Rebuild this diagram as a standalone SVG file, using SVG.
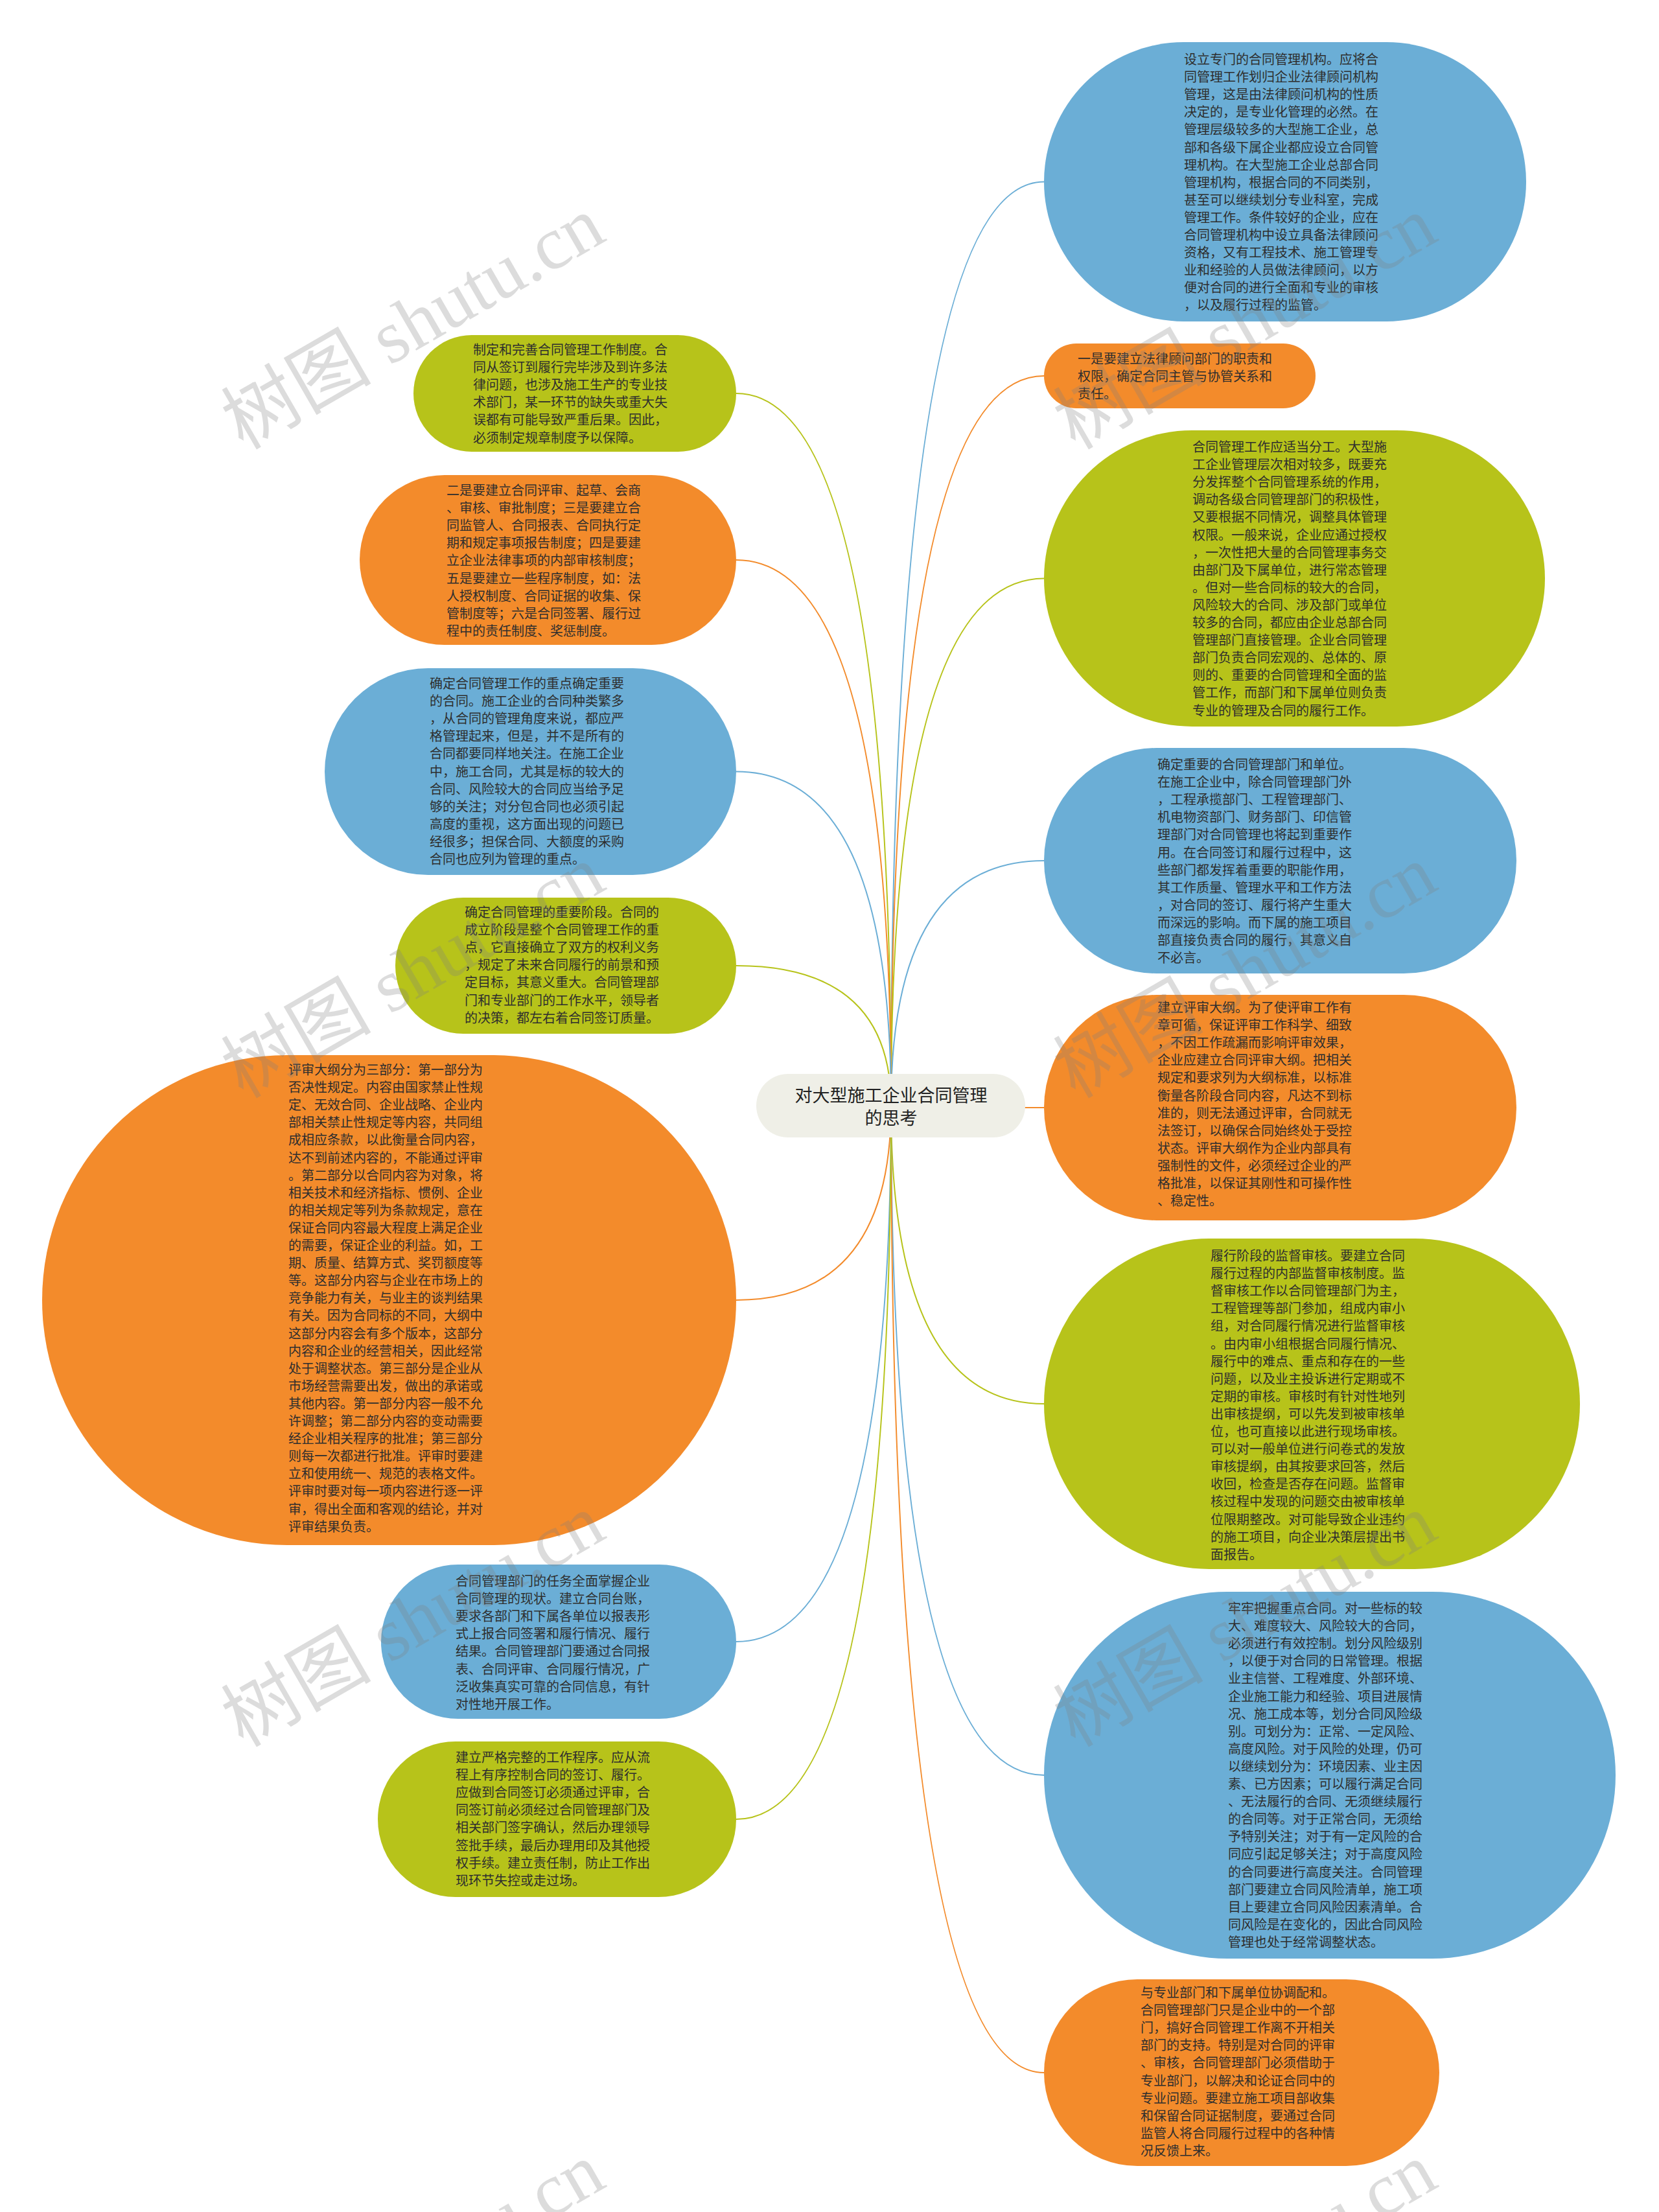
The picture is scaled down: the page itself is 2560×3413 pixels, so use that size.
<svg xmlns="http://www.w3.org/2000/svg" width="2560" height="3413" viewBox="0 0 2560 3413">
<style>
.t{font-family:"Noto Sans CJK SC","Noto Sans",sans-serif;font-size:20px;fill:#2e2e2e}
.root{font-family:"Noto Sans CJK SC","Noto Sans",sans-serif;font-size:27px;fill:#222}
.blue{fill:#6BAED6}.orange{fill:#F38B2B}.green{fill:#B7C31A}
.lb{stroke:#6BAED6}.lo{stroke:#F38B2B}.lg{stroke:#B7C31A}
.conn path{fill:none;stroke-width:2}
.wm{font-family:"Liberation Serif","Noto Sans CJK SC",serif;font-size:116px;fill:#808080;opacity:0.27}
</style>
<rect width="2560" height="3413" fill="#fff"/>
<g class="conn">
<path class="lb" d="M1375 1706 Q1375 280.5 1611 280.5"/>
<path class="lo" d="M1375 1706 Q1375 580 1611 580"/>
<path class="lg" d="M1375 1706 Q1375 892.5 1611 892.5"/>
<path class="lb" d="M1375 1706 Q1375 1328 1611 1328"/>
<path class="lo" d="M1375 1706 Q1375 1709 1611 1709"/>
<path class="lg" d="M1375 1706 Q1375 2166 1611 2166"/>
<path class="lb" d="M1375 1706 Q1375 2739 1611 2739"/>
<path class="lo" d="M1375 1706 Q1375 3198 1611 3198"/>
<path class="lg" d="M1375 1706 Q1375 607 1136 607"/>
<path class="lo" d="M1375 1706 Q1375 864 1136 864"/>
<path class="lb" d="M1375 1706 Q1375 1190.5 1136 1190.5"/>
<path class="lg" d="M1375 1706 Q1375 1490 1136 1490"/>
<path class="lo" d="M1375 1706 Q1375 2006 1136 2006"/>
<path class="lb" d="M1375 1706 Q1375 2533 1136 2533"/>
<path class="lg" d="M1375 1706 Q1375 2807 1136 2807"/>
</g>
<g id="root">
<rect x="1167" y="1657" width="415" height="98" rx="49" fill="#EFEFE7"/>
<text class="root" text-anchor="middle"><tspan x="1375" y="1700">对大型施工企业合同管理</tspan><tspan x="1375" y="1735">的思考</tspan></text>
</g>
<g id="r1">
<rect class="blue" x="1611" y="65" width="744" height="431" rx="215.5"/>
<text class="t"><tspan x="1827" y="99">设立专门的合同管理机构。应将合</tspan><tspan x="1827" dy="27.1">同管理工作划归企业法律顾问机构</tspan><tspan x="1827" dy="27.1">管理，这是由法律顾问机构的性质</tspan><tspan x="1827" dy="27.1">决定的，是专业化管理的必然。在</tspan><tspan x="1827" dy="27.1">管理层级较多的大型施工企业，总</tspan><tspan x="1827" dy="27.1">部和各级下属企业都应设立合同管</tspan><tspan x="1827" dy="27.1">理机构。在大型施工企业总部合同</tspan><tspan x="1827" dy="27.1">管理机构，根据合同的不同类别，</tspan><tspan x="1827" dy="27.1">甚至可以继续划分专业科室，完成</tspan><tspan x="1827" dy="27.1">管理工作。条件较好的企业，应在</tspan><tspan x="1827" dy="27.1">合同管理机构中设立具备法律顾问</tspan><tspan x="1827" dy="27.1">资格，又有工程技术、施工管理专</tspan><tspan x="1827" dy="27.1">业和经验的人员做法律顾问，以方</tspan><tspan x="1827" dy="27.1">便对合同的进行全面和专业的审核</tspan><tspan x="1827" dy="27.1">，以及履行过程的监管。</tspan></text>
</g>
<g id="r2">
<rect class="orange" x="1611" y="530" width="419" height="100" rx="50"/>
<text class="t"><tspan x="1663" y="561">一是要建立法律顾问部门的职责和</tspan><tspan x="1663" dy="27.1">权限，确定合同主管与协管关系和</tspan><tspan x="1663" dy="27.1">责任。</tspan></text>
</g>
<g id="r3">
<rect class="green" x="1611" y="664" width="773" height="457" rx="228.5"/>
<text class="t"><tspan x="1840" y="697">合同管理工作应适当分工。大型施</tspan><tspan x="1840" dy="27.1">工企业管理层次相对较多，既要充</tspan><tspan x="1840" dy="27.1">分发挥整个合同管理系统的作用，</tspan><tspan x="1840" dy="27.1">调动各级合同管理部门的积极性，</tspan><tspan x="1840" dy="27.1">又要根据不同情况，调整具体管理</tspan><tspan x="1840" dy="27.1">权限。一般来说，企业应通过授权</tspan><tspan x="1840" dy="27.1">，一次性把大量的合同管理事务交</tspan><tspan x="1840" dy="27.1">由部门及下属单位，进行常态管理</tspan><tspan x="1840" dy="27.1">。但对一些合同标的较大的合同，</tspan><tspan x="1840" dy="27.1">风险较大的合同、涉及部门或单位</tspan><tspan x="1840" dy="27.1">较多的合同，都应由企业总部合同</tspan><tspan x="1840" dy="27.1">管理部门直接管理。企业合同管理</tspan><tspan x="1840" dy="27.1">部门负责合同宏观的、总体的、原</tspan><tspan x="1840" dy="27.1">则的、重要的合同管理和全面的监</tspan><tspan x="1840" dy="27.1">管工作，而部门和下属单位则负责</tspan><tspan x="1840" dy="27.1">专业的管理及合同的履行工作。</tspan></text>
</g>
<g id="r4">
<rect class="blue" x="1611" y="1154" width="729" height="348" rx="174"/>
<text class="t"><tspan x="1786" y="1187">确定重要的合同管理部门和单位。</tspan><tspan x="1786" dy="27.1">在施工企业中，除合同管理部门外</tspan><tspan x="1786" dy="27.1">，工程承揽部门、工程管理部门、</tspan><tspan x="1786" dy="27.1">机电物资部门、财务部门、印信管</tspan><tspan x="1786" dy="27.1">理部门对合同管理也将起到重要作</tspan><tspan x="1786" dy="27.1">用。在合同签订和履行过程中，这</tspan><tspan x="1786" dy="27.1">些部门都发挥着重要的职能作用，</tspan><tspan x="1786" dy="27.1">其工作质量、管理水平和工作方法</tspan><tspan x="1786" dy="27.1">，对合同的签订、履行将产生重大</tspan><tspan x="1786" dy="27.1">而深远的影响。而下属的施工项目</tspan><tspan x="1786" dy="27.1">部直接负责合同的履行，其意义自</tspan><tspan x="1786" dy="27.1">不必言。</tspan></text>
</g>
<g id="r5">
<rect class="orange" x="1611" y="1535" width="729" height="348" rx="174"/>
<text class="t"><tspan x="1786" y="1562">建立评审大纲。为了使评审工作有</tspan><tspan x="1786" dy="27.1">章可循，保证评审工作科学、细致</tspan><tspan x="1786" dy="27.1">，不因工作疏漏而影响评审效果，</tspan><tspan x="1786" dy="27.1">企业应建立合同评审大纲。把相关</tspan><tspan x="1786" dy="27.1">规定和要求列为大纲标准，以标准</tspan><tspan x="1786" dy="27.1">衡量各阶段合同内容，凡达不到标</tspan><tspan x="1786" dy="27.1">准的，则无法通过评审，合同就无</tspan><tspan x="1786" dy="27.1">法签订，以确保合同始终处于受控</tspan><tspan x="1786" dy="27.1">状态。评审大纲作为企业内部具有</tspan><tspan x="1786" dy="27.1">强制性的文件，必须经过企业的严</tspan><tspan x="1786" dy="27.1">格批准，以保证其刚性和可操作性</tspan><tspan x="1786" dy="27.1">、稳定性。</tspan></text>
</g>
<g id="r6">
<rect class="green" x="1611" y="1911" width="827" height="510" rx="255"/>
<text class="t"><tspan x="1868" y="1945">履行阶段的监督审核。要建立合同</tspan><tspan x="1868" dy="27.1">履行过程的内部监督审核制度。监</tspan><tspan x="1868" dy="27.1">督审核工作以合同管理部门为主，</tspan><tspan x="1868" dy="27.1">工程管理等部门参加，组成内审小</tspan><tspan x="1868" dy="27.1">组，对合同履行情况进行监督审核</tspan><tspan x="1868" dy="27.1">。由内审小组根据合同履行情况、</tspan><tspan x="1868" dy="27.1">履行中的难点、重点和存在的一些</tspan><tspan x="1868" dy="27.1">问题，以及业主投诉进行定期或不</tspan><tspan x="1868" dy="27.1">定期的审核。审核时有针对性地列</tspan><tspan x="1868" dy="27.1">出审核提纲，可以先发到被审核单</tspan><tspan x="1868" dy="27.1">位，也可直接以此进行现场审核。</tspan><tspan x="1868" dy="27.1">可以对一般单位进行问卷式的发放</tspan><tspan x="1868" dy="27.1">审核提纲，由其按要求回答，然后</tspan><tspan x="1868" dy="27.1">收回，检查是否存在问题。监督审</tspan><tspan x="1868" dy="27.1">核过程中发现的问题交由被审核单</tspan><tspan x="1868" dy="27.1">位限期整改。对可能导致企业违约</tspan><tspan x="1868" dy="27.1">的施工项目，向企业决策层提出书</tspan><tspan x="1868" dy="27.1">面报告。</tspan></text>
</g>
<g id="r7">
<rect class="blue" x="1611" y="2456" width="882" height="566" rx="283"/>
<text class="t"><tspan x="1895" y="2489">牢牢把握重点合同。对一些标的较</tspan><tspan x="1895" dy="27.1">大、难度较大、风险较大的合同，</tspan><tspan x="1895" dy="27.1">必须进行有效控制。划分风险级别</tspan><tspan x="1895" dy="27.1">，以便于对合同的日常管理。根据</tspan><tspan x="1895" dy="27.1">业主信誉、工程难度、外部环境、</tspan><tspan x="1895" dy="27.1">企业施工能力和经验、项目进展情</tspan><tspan x="1895" dy="27.1">况、施工成本等，划分合同风险级</tspan><tspan x="1895" dy="27.1">别。可划分为：正常、一定风险、</tspan><tspan x="1895" dy="27.1">高度风险。对于风险的处理，仍可</tspan><tspan x="1895" dy="27.1">以继续划分为：环境因素、业主因</tspan><tspan x="1895" dy="27.1">素、已方因素；可以履行满足合同</tspan><tspan x="1895" dy="27.1">、无法履行的合同、无须继续履行</tspan><tspan x="1895" dy="27.1">的合同等。对于正常合同，无须给</tspan><tspan x="1895" dy="27.1">予特别关注；对于有一定风险的合</tspan><tspan x="1895" dy="27.1">同应引起足够关注；对于高度风险</tspan><tspan x="1895" dy="27.1">的合同要进行高度关注。合同管理</tspan><tspan x="1895" dy="27.1">部门要建立合同风险清单，施工项</tspan><tspan x="1895" dy="27.1">目上要建立合同风险因素清单。合</tspan><tspan x="1895" dy="27.1">同风险是在变化的，因此合同风险</tspan><tspan x="1895" dy="27.1">管理也处于经常调整状态。</tspan></text>
</g>
<g id="r8">
<rect class="orange" x="1611" y="3054" width="610" height="288" rx="144"/>
<text class="t"><tspan x="1760" y="3082">与专业部门和下属单位协调配和。</tspan><tspan x="1760" dy="27.1">合同管理部门只是企业中的一个部</tspan><tspan x="1760" dy="27.1">门，搞好合同管理工作离不开相关</tspan><tspan x="1760" dy="27.1">部门的支持。特别是对合同的评审</tspan><tspan x="1760" dy="27.1">、审核，合同管理部门必须借助于</tspan><tspan x="1760" dy="27.1">专业部门，以解决和论证合同中的</tspan><tspan x="1760" dy="27.1">专业问题。要建立施工项目部收集</tspan><tspan x="1760" dy="27.1">和保留合同证据制度，要通过合同</tspan><tspan x="1760" dy="27.1">监管人将合同履行过程中的各种情</tspan><tspan x="1760" dy="27.1">况反馈上来。</tspan></text>
</g>
<g id="l1">
<rect class="green" x="638" y="517" width="498" height="180" rx="90"/>
<text class="t"><tspan x="730" y="547">制定和完善合同管理工作制度。合</tspan><tspan x="730" dy="27.1">同从签订到履行完毕涉及到许多法</tspan><tspan x="730" dy="27.1">律问题，也涉及施工生产的专业技</tspan><tspan x="730" dy="27.1">术部门，某一环节的缺失或重大失</tspan><tspan x="730" dy="27.1">误都有可能导致严重后果。因此，</tspan><tspan x="730" dy="27.1">必须制定规章制度予以保障。</tspan></text>
</g>
<g id="l2">
<rect class="orange" x="555" y="733" width="581" height="262" rx="131"/>
<text class="t"><tspan x="689" y="764">二是要建立合同评审、起草、会商</tspan><tspan x="689" dy="27.1">、审核、审批制度；三是要建立合</tspan><tspan x="689" dy="27.1">同监管人、合同报表、合同执行定</tspan><tspan x="689" dy="27.1">期和规定事项报告制度；四是要建</tspan><tspan x="689" dy="27.1">立企业法律事项的内部审核制度；</tspan><tspan x="689" dy="27.1">五是要建立一些程序制度，如：法</tspan><tspan x="689" dy="27.1">人授权制度、合同证据的收集、保</tspan><tspan x="689" dy="27.1">管制度等；六是合同签署、履行过</tspan><tspan x="689" dy="27.1">程中的责任制度、奖惩制度。</tspan></text>
</g>
<g id="l3">
<rect class="blue" x="501" y="1031" width="635" height="319" rx="159.5"/>
<text class="t"><tspan x="663" y="1062">确定合同管理工作的重点确定重要</tspan><tspan x="663" dy="27.1">的合同。施工企业的合同种类繁多</tspan><tspan x="663" dy="27.1">，从合同的管理角度来说，都应严</tspan><tspan x="663" dy="27.1">格管理起来，但是，并不是所有的</tspan><tspan x="663" dy="27.1">合同都要同样地关注。在施工企业</tspan><tspan x="663" dy="27.1">中，施工合同，尤其是标的较大的</tspan><tspan x="663" dy="27.1">合同、风险较大的合同应当给予足</tspan><tspan x="663" dy="27.1">够的关注；对分包合同也必须引起</tspan><tspan x="663" dy="27.1">高度的重视，这方面出现的问题已</tspan><tspan x="663" dy="27.1">经很多；担保合同、大额度的采购</tspan><tspan x="663" dy="27.1">合同也应列为管理的重点。</tspan></text>
</g>
<g id="l4">
<rect class="green" x="610" y="1385" width="526" height="210" rx="105"/>
<text class="t"><tspan x="717" y="1415">确定合同管理的重要阶段。合同的</tspan><tspan x="717" dy="27.1">成立阶段是整个合同管理工作的重</tspan><tspan x="717" dy="27.1">点，它直接确立了双方的权利义务</tspan><tspan x="717" dy="27.1">，规定了未来合同履行的前景和预</tspan><tspan x="717" dy="27.1">定目标，其意义重大。合同管理部</tspan><tspan x="717" dy="27.1">门和专业部门的工作水平，领导者</tspan><tspan x="717" dy="27.1">的决策，都左右着合同签订质量。</tspan></text>
</g>
<g id="l5">
<rect class="orange" x="65" y="1628" width="1071" height="756" rx="378"/>
<text class="t"><tspan x="445" y="1658">评审大纲分为三部分：第一部分为</tspan><tspan x="445" dy="27.1">否决性规定。内容由国家禁止性规</tspan><tspan x="445" dy="27.1">定、无效合同、企业战略、企业内</tspan><tspan x="445" dy="27.1">部相关禁止性规定等内容，共同组</tspan><tspan x="445" dy="27.1">成相应条款，以此衡量合同内容，</tspan><tspan x="445" dy="27.1">达不到前述内容的，不能通过评审</tspan><tspan x="445" dy="27.1">。第二部分以合同内容为对象，将</tspan><tspan x="445" dy="27.1">相关技术和经济指标、惯例、企业</tspan><tspan x="445" dy="27.1">的相关规定等列为条款规定，意在</tspan><tspan x="445" dy="27.1">保证合同内容最大程度上满足企业</tspan><tspan x="445" dy="27.1">的需要，保证企业的利益。如，工</tspan><tspan x="445" dy="27.1">期、质量、结算方式、奖罚额度等</tspan><tspan x="445" dy="27.1">等。这部分内容与企业在市场上的</tspan><tspan x="445" dy="27.1">竞争能力有关，与业主的谈判结果</tspan><tspan x="445" dy="27.1">有关。因为合同标的不同，大纲中</tspan><tspan x="445" dy="27.1">这部分内容会有多个版本，这部分</tspan><tspan x="445" dy="27.1">内容和企业的经营相关，因此经常</tspan><tspan x="445" dy="27.1">处于调整状态。第三部分是企业从</tspan><tspan x="445" dy="27.1">市场经营需要出发，做出的承诺或</tspan><tspan x="445" dy="27.1">其他内容。第一部分内容一般不允</tspan><tspan x="445" dy="27.1">许调整；第二部分内容的变动需要</tspan><tspan x="445" dy="27.1">经企业相关程序的批准；第三部分</tspan><tspan x="445" dy="27.1">则每一次都进行批准。评审时要建</tspan><tspan x="445" dy="27.1">立和使用统一、规范的表格文件。</tspan><tspan x="445" dy="27.1">评审时要对每一项内容进行逐一评</tspan><tspan x="445" dy="27.1">审，得出全面和客观的结论，并对</tspan><tspan x="445" dy="27.1">评审结果负责。</tspan></text>
</g>
<g id="l6">
<rect class="blue" x="588" y="2414" width="548" height="238" rx="119"/>
<text class="t"><tspan x="703" y="2447">合同管理部门的任务全面掌握企业</tspan><tspan x="703" dy="27.1">合同管理的现状。建立合同台账，</tspan><tspan x="703" dy="27.1">要求各部门和下属各单位以报表形</tspan><tspan x="703" dy="27.1">式上报合同签署和履行情况、履行</tspan><tspan x="703" dy="27.1">结果。合同管理部门要通过合同报</tspan><tspan x="703" dy="27.1">表、合同评审、合同履行情况，广</tspan><tspan x="703" dy="27.1">泛收集真实可靠的合同信息，有针</tspan><tspan x="703" dy="27.1">对性地开展工作。</tspan></text>
</g>
<g id="l7">
<rect class="green" x="583" y="2687" width="553" height="240" rx="120"/>
<text class="t"><tspan x="703" y="2719">建立严格完整的工作程序。应从流</tspan><tspan x="703" dy="27.1">程上有序控制合同的签订、履行。</tspan><tspan x="703" dy="27.1">应做到合同签订必须通过评审，合</tspan><tspan x="703" dy="27.1">同签订前必须经过合同管理部门及</tspan><tspan x="703" dy="27.1">相关部门签字确认，然后办理领导</tspan><tspan x="703" dy="27.1">签批手续，最后办理用印及其他授</tspan><tspan x="703" dy="27.1">权手续。建立责任制，防止工作出</tspan><tspan x="703" dy="27.1">现环节失控或走过场。</tspan></text>
</g>
<g id="watermarks">
<text class="wm" transform="translate(375 695) rotate(-30)">树图 shutu.cn</text>
<text class="wm" transform="translate(1659 695) rotate(-30)">树图 shutu.cn</text>
<text class="wm" transform="translate(375 1696) rotate(-30)">树图 shutu.cn</text>
<text class="wm" transform="translate(1659 1696) rotate(-30)">树图 shutu.cn</text>
<text class="wm" transform="translate(375 2697) rotate(-30)">树图 shutu.cn</text>
<text class="wm" transform="translate(1659 2697) rotate(-30)">树图 shutu.cn</text>
<text class="wm" transform="translate(375 3698) rotate(-30)">树图 shutu.cn</text>
<text class="wm" transform="translate(1659 3698) rotate(-30)">树图 shutu.cn</text>
</g>
</svg>
